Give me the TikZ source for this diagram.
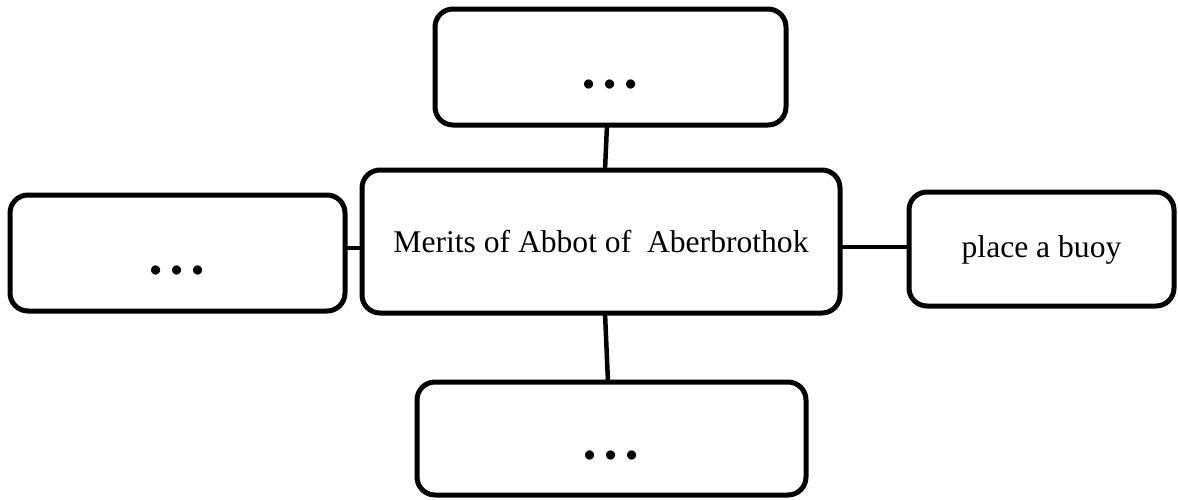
\documentclass[tikz,border=0pt]{standalone}
\usepackage{fontspec}
\setmainfont{Liberation Serif}
\newfontfamily\dotfont{Carlito}
\begin{document}
\begin{tikzpicture}[x=1pt,y=-1pt,
  boxstyle/.style={draw=black, line width=5pt, rounded corners=18pt, fill=white,
    inner sep=0pt, outer sep=0pt, anchor=center,
    font=\fontsize{31.6}{38}\selectfont},
  dotstyle/.style={boxstyle, font=\dotfont\fontsize{76}{84}\selectfont,
    text height=42pt, text depth=0pt},
  link/.style={draw=black, line width=4.5pt}]
\useasboundingbox (0,0) rectangle (1178,499);
% boxes (centres and sizes measured at line centres)
\node[dotstyle, minimum width=351pt, minimum height=116pt] (top) at (610.5,67) {.\kern2pt.\kern2pt.};
\node[boxstyle, minimum width=478pt, minimum height=143pt] (mid) at (601,241.5) {Merits of Abbot of~ Aberbrothok};
\node[dotstyle, minimum width=335pt, minimum height=116pt] (left) at (177.5,253) {.\kern2pt.\kern2pt.};
\node[boxstyle, minimum width=265pt, minimum height=114pt, text depth=4pt] (right) at (1041.5,249) {place a buoy};
\node[dotstyle, minimum width=389pt, minimum height=113pt] (bottom) at (611.5,438.5) {.\kern2pt.\kern2pt.};
% connectors
\draw[link] ([xshift=-3.5pt]top.south) -- ([xshift=4pt]mid.north);
\draw[link] ([xshift=4pt]mid.south) -- ([xshift=-3.5pt]bottom.north);
\draw[link] ([yshift=5pt]left.east) -- ([yshift=-6.5pt]mid.west);
\draw[link] ([yshift=-5.5pt]mid.east) -- ([yshift=2pt]right.west);
\end{tikzpicture}
\end{document}
